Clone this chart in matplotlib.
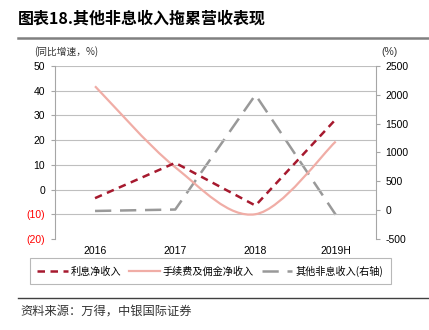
import matplotlib
matplotlib.use("Agg")
import matplotlib.pyplot as plt
from matplotlib.lines import Line2D
from matplotlib.path import Path
from matplotlib.patches import PathPatch
import numpy as np

CJK = ["Noto Sans CJK SC", "DejaVu Sans"]
LATIN = ["Liberation Sans", "DejaVu Sans"]

years = ["2016", "2017", "2018", "2019H"]
net_interest = [-3.5, 10.8, -6.5, 28.4]
fee_commission = [41.8, 9.0, -10.0, 19.4]
other_nonint = [-15, 10, 2000, -80]

left_ticks = [50, 40, 30, 20, 10, 0, -10, -20]
right_ticks = [2500, 2000, 1500, 1000, 500, 0, -500]

RED = "#A6192E"
PINK = "#F0ADA6"
GRAY = "#999999"


def left_label(v):
    return f"({abs(v)})" if v < 0 else str(v)


def smooth_path(xs, ys):
    # Excel-style smoothed line: cubic Bezier through every point
    pts = np.column_stack([xs, ys]).astype(float)
    n = len(pts)
    verts = [pts[0]]
    codes = [Path.MOVETO]
    for i in range(n - 1):
        p0 = pts[i - 1] if i > 0 else pts[i]
        p1, p2 = pts[i], pts[i + 1]
        p3 = pts[i + 2] if i + 2 < n else pts[i + 1]
        c1 = p1 + (p2 - p0) / 6
        c2 = p2 - (p3 - p1) / 6
        verts += [c1, c2, p2]
        codes += [Path.CURVE4] * 3
    return Path(verts, codes)


fig = plt.figure(figsize=(4.29, 3.30), dpi=100)
ax = fig.add_axes([0.128, 0.276, 0.748, 0.524])
ax2 = ax.twinx()

x = np.arange(len(years))
ax.set_xlim(-0.5, len(years) - 0.5)
ax.set_ylim(-20, 50)
ax2.set_ylim(-500, 2500)

for t in left_ticks[:-1]:
    ax.axhline(t, color="#BFBFBF", lw=0.8, zorder=0)

ax.plot(x, net_interest, color=RED, lw=1.8, dashes=(3, 2.2), zorder=4)
ax.add_patch(PathPatch(smooth_path(x, fee_commission), facecolor="none",
                       edgecolor=PINK, lw=1.6, zorder=3))
ax2.plot(x, other_nonint, color=GRAY, lw=1.8, dashes=(6.5, 3.5), zorder=2)
ax.set_zorder(ax2.get_zorder() + 1)
ax.patch.set_visible(False)

for a in (ax, ax2):
    for side in ("top", "bottom"):
        a.spines[side].set_visible(False)
ax.spines["right"].set_visible(False)
ax2.spines["left"].set_visible(False)
ax.spines["left"].set_color("#A6A6A6")
ax2.spines["right"].set_color("#A6A6A6")

ax.set_yticks(left_ticks)
ax.set_yticklabels([left_label(v) for v in left_ticks], family=LATIN, fontsize=7.5)
for lbl, v in zip(ax.get_yticklabels(), left_ticks):
    lbl.set_color("#FF0000" if v < 0 else "black")
ax.tick_params(axis="y", length=3, color="#A6A6A6", pad=4)
ax2.set_yticks(right_ticks)
ax2.set_yticklabels([str(v) for v in right_ticks], family=LATIN, fontsize=7.5)
ax2.tick_params(axis="y", length=3, color="#A6A6A6", pad=4)

ax.set_xticks(x)
ax.set_xticklabels(years, family=LATIN, fontsize=7.5)
ax.tick_params(axis="x", length=0, pad=5)

fig.text(0.042, 0.945, "图表18.其他非息收入拖累营收表现", family=CJK, fontsize=11.5,
         weight="bold", va="center")
fig.add_artist(Line2D([0.042, 1.0], [0.886, 0.886], color="#808080", lw=1.8))
fig.text(0.080, 0.843, "(同比增速，%)", family=CJK, fontsize=7, color="#333333", va="center")
fig.text(0.890, 0.843, "(%)", family=LATIN, fontsize=7.5, color="#333333", va="center")

handles = [
    Line2D([], [], color=RED, lw=1.8, dashes=(3, 2.2)),
    Line2D([], [], color=PINK, lw=1.6),
    Line2D([], [], color=GRAY, lw=1.8, dashes=(6.5, 3.5)),
]
labels = ["利息净收入", "手续费及佣金净收入", "其他非息收入(右轴)"]
leg = fig.legend(handles, labels, loc="center", bbox_to_anchor=(0.49, 0.178),
                 ncol=3, frameon=True, fancybox=False, edgecolor="#A6A6A6",
                 prop={"family": CJK, "size": 7.3}, handlelength=3.0,
                 handletextpad=0.3, columnspacing=0.8, borderpad=0.75)
leg.get_frame().set_linewidth(0.8)

fig.add_artist(Line2D([0.042, 1.0], [0.097, 0.097], color="#404040", lw=1.0))
fig.text(0.047, 0.057, "资料来源：万得，中银国际证券", family=CJK, fontsize=8.8,
         style="italic", color="#333333", va="center")

fig.savefig("out.png", dpi=100)
